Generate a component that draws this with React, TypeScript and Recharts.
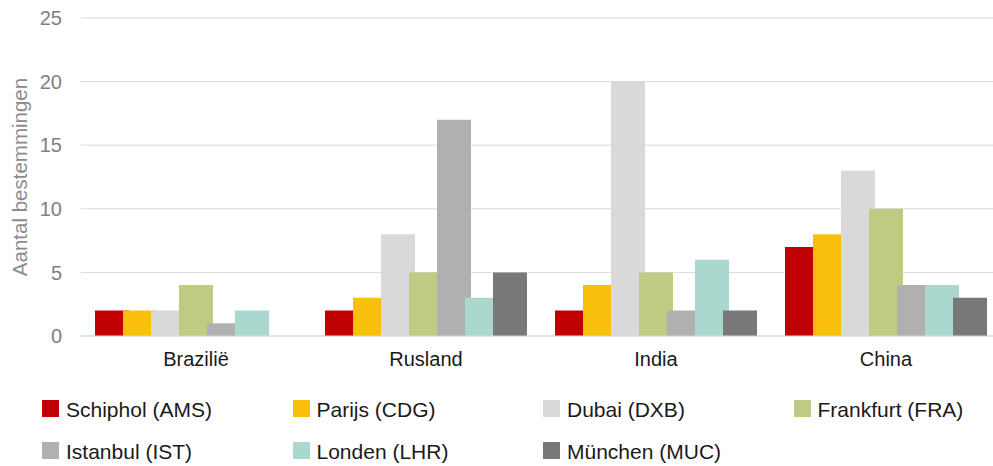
import React from 'react'
import { BarChart, Bar, XAxis, YAxis, CartesianGrid, Label } from 'recharts'

// Categories (countries) and one value array per airport
const countries = ['Brazilië', 'Rusland', 'India', 'China']
const ams = [2, 2, 2, 7]
const cdg = [2, 3, 4, 8]
const dxb = [2, 8, 20, 13]
const fra = [4, 5, 5, 10]
const ist = [1, 17, 2, 4]
const lhr = [2, 3, 6, 4]
const muc = [0, 5, 2, 3]
const yTicks = [0, 5, 10, 15, 20, 25]

const series = [
  { key: 'ams', name: 'Schiphol (AMS)', color: '#C00000', values: ams },
  { key: 'cdg', name: 'Parijs (CDG)', color: '#F8C00C', values: cdg },
  { key: 'dxb', name: 'Dubai (DXB)', color: '#D9D9D9', values: dxb },
  { key: 'fra', name: 'Frankfurt (FRA)', color: '#BFCA82', values: fra },
  { key: 'ist', name: 'Istanbul (IST)', color: '#B0B0B0', values: ist },
  { key: 'lhr', name: 'Londen (LHR)', color: '#AAD8CE', values: lhr },
  { key: 'muc', name: 'München (MUC)', color: '#787878', values: muc },
]

const data = countries.map((country, i) => {
  const row: Record<string, string | number> = { country }
  series.forEach((s) => {
    row[s.key] = s.values[i]
  })
  return row
})

const FONT = '"Liberation Sans", Arial, sans-serif'

// Legend in two rows of four columns, below the plot
function ChartLegend() {
  return (
    <div
      style={{
        position: 'absolute',
        left: 42,
        top: 398,
        width: 1000,
        display: 'grid',
        gridTemplateColumns: 'repeat(4, 250.5px)',
        rowGap: 21,
        fontFamily: FONT,
        fontSize: 21,
        color: '#1a1a1a',
      }}
    >
      {series.map((s) => (
        <div key={s.key} style={{ display: 'flex', alignItems: 'center', height: 21 }}>
          <span style={{ width: 17, height: 17, background: s.color, display: 'inline-block', marginRight: 7 }} />
          <span style={{ whiteSpace: 'nowrap', marginTop: 3 }}>{s.name}</span>
        </div>
      ))}
    </div>
  )
}

export default function App() {
  // the plot runs a little past the right edge of the picture, as in the original
  return (
    <div
      style={{
        position: 'absolute',
        left: 0,
        top: 0,
        width: 993,
        height: 466,
        overflow: 'hidden',
        background: '#fff',
      }}
    >
      <BarChart
        width={1001}
        height={466}
        data={data}
        margin={{ top: 18, right: 0, left: 0, bottom: 0 }}
        barSize={34}
        barGap={-6}
      >
        <CartesianGrid vertical={false} stroke="#D9D9D9" />
        <XAxis
          dataKey="country"
          axisLine={{ stroke: '#D9D9D9' }}
          tickLine={false}
          tickSize={0}
          tickMargin={16}
          height={130}
          tick={{ fontSize: 20, fill: '#1a1a1a', fontFamily: FONT }}
        />
        <YAxis
          width={81}
          domain={[0, 25]}
          ticks={yTicks}
          axisLine={false}
          tickLine={false}
          tickSize={0}
          tickMargin={19}
          tick={{ fontSize: 20, fill: '#7F7F7F', fontFamily: FONT }}
        >
          <Label
            content={({ viewBox }: any) => {
              const cx = viewBox.x + 19
              const cy = viewBox.y + viewBox.height / 2
              return (
                <text
                  x={cx}
                  y={cy}
                  transform={`rotate(-90 ${cx} ${cy})`}
                  textAnchor="middle"
                  dominantBaseline="central"
                  fontSize={20.5}
                  fill="#8C8C8C"
                  fontFamily={FONT}
                >
                  Aantal bestemmingen
                </text>
              )
            }}
          />
        </YAxis>
        {series.map((s) => (
          <Bar key={s.key} dataKey={s.key} name={s.name} fill={s.color} isAnimationActive={false} />
        ))}
      </BarChart>
      <ChartLegend />
    </div>
  )
}
